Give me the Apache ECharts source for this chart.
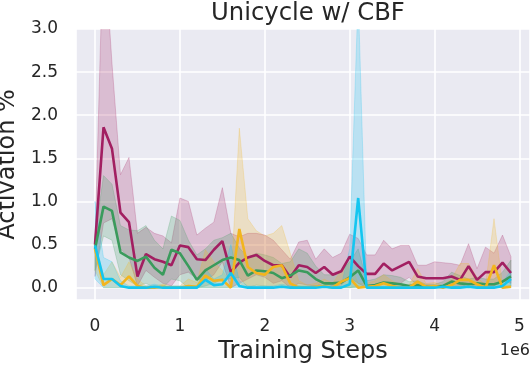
<!DOCTYPE html>
<html>
<head>
<meta charset="utf-8">
<title>Unicycle w/ CBF</title>
<script src="https://cdn.jsdelivr.net/npm/echarts/dist/echarts.min.js"></script>
<style>
  html, body { margin: 0; padding: 0; background: #fff; }
  #chart { width: 532px; height: 365px; }
</style>
</head>
<body>
<div id="chart"></div>
<script>
// training steps, in units of 1e6
const steps = [0, 0.1, 0.2, 0.3, 0.4, 0.5, 0.6, 0.7, 0.8, 0.9,
  1.0, 1.1, 1.2, 1.3, 1.4, 1.5, 1.6, 1.7, 1.8, 1.9,
  2.0, 2.1, 2.2, 2.3, 2.4, 2.5, 2.6, 2.7, 2.8, 2.9,
  3.0, 3.1, 3.2, 3.3, 3.4, 3.5, 3.6, 3.7, 3.8, 3.9,
  4.0, 4.1, 4.2, 4.3, 4.4, 4.5, 4.6, 4.7, 4.8, 4.9];

const purpleMean = [0.50, 1.86, 1.61, 0.87, 0.76, 0.13, 0.39, 0.33, 0.30, 0.26,
  0.49, 0.47, 0.33, 0.32, 0.44, 0.54, 0.18, 0.29, 0.35, 0.38,
  0.31, 0.26, 0.26, 0.12, 0.26, 0.24, 0.17, 0.24, 0.15, 0.19,
  0.36, 0.25, 0.16, 0.16, 0.28, 0.20, 0.25, 0.30, 0.13, 0.11,
  0.11, 0.11, 0.13, 0.09, 0.25, 0.09, 0.18, 0.18, 0.29, 0.17];
const purpleHigh = [0.55, 4.10, 2.60, 1.31, 1.51, 0.63, 0.70, 0.63, 0.60, 0.52,
  1.04, 1.00, 0.61, 0.69, 0.76, 1.16, 0.63, 0.59, 0.63, 0.63,
  0.61, 0.55, 0.44, 0.33, 0.53, 0.55, 0.33, 0.45, 0.35, 0.40,
  0.62, 0.57, 0.38, 0.38, 0.55, 0.45, 0.49, 0.49, 0.26, 0.26,
  0.30, 0.29, 0.28, 0.26, 0.51, 0.22, 0.47, 0.40, 0.61, 0.36];
const purpleLow = [0.13, 0.75, 0.80, 0.45, 0.35, 0.02, 0.20, 0.12, 0.05, 0.02,
  0.15, 0.18, 0.10, 0.08, 0.15, 0.30, 0.00, 0.05, 0.10, 0.15,
  0.12, 0.05, 0.08, 0.00, 0.05, 0.03, 0.02, 0.05, 0.02, 0.03,
  0.12, 0.05, 0.00, 0.00, 0.06, 0.02, 0.05, 0.12, 0.02, 0.00,
  0.00, 0.00, 0.02, 0.00, 0.05, 0.00, 0.02, 0.02, 0.08, 0.05];

const greenMean = [0.45, 0.94, 0.89, 0.41, 0.35, 0.31, 0.36, 0.23, 0.15, 0.44,
  0.40, 0.25, 0.09, 0.20, 0.26, 0.32, 0.35, 0.32, 0.14, 0.20,
  0.19, 0.17, 0.11, 0.14, 0.20, 0.18, 0.10, 0.05, 0.05, 0.06,
  0.12, 0.20, 0.02, 0.03, 0.06, 0.05, 0.04, 0.02, 0.03, 0.01,
  0.01, 0.02, 0.07, 0.05, 0.04, 0.05, 0.04, 0.04, 0.07, 0.13];
const greenHigh = [0.60, 1.30, 1.20, 0.72, 0.67, 0.66, 0.72, 0.55, 0.45, 0.83,
  0.78, 0.55, 0.38, 0.45, 0.55, 0.58, 0.63, 0.46, 0.35, 0.40,
  0.38, 0.35, 0.28, 0.30, 0.45, 0.40, 0.25, 0.15, 0.15, 0.18,
  0.30, 0.45, 0.08, 0.10, 0.15, 0.14, 0.12, 0.07, 0.08, 0.04,
  0.04, 0.07, 0.18, 0.14, 0.10, 0.12, 0.10, 0.10, 0.18, 0.32];
const greenLow = [0.20, 0.60, 0.55, 0.15, 0.08, 0.02, 0.05, 0.00, 0.00, 0.10,
  0.08, 0.00, 0.00, 0.02, 0.05, 0.10, 0.10, 0.12, 0.00, 0.03,
  0.02, 0.00, 0.00, 0.00, 0.02, 0.00, 0.00, 0.00, 0.00, 0.00,
  0.00, 0.02, 0.00, 0.00, 0.00, 0.00, 0.00, 0.00, 0.00, 0.00,
  0.00, 0.00, 0.00, 0.00, 0.00, 0.00, 0.00, 0.00, 0.00, 0.02];

const yellowMean = [0.45, 0.03, 0.10, 0.03, 0.13, 0.02, 0.00, 0.00, 0.01, 0.00,
  0.00, 0.02, 0.01, 0.14, 0.08, 0.09, 0.00, 0.68, 0.24, 0.17,
  0.15, 0.24, 0.26, 0.05, 0.00, 0.00, 0.01, 0.02, 0.00, 0.07,
  0.11, 0.00, 0.01, 0.02, 0.05, 0.02, 0.00, 0.00, 0.07, 0.01,
  0.02, 0.00, 0.03, 0.09, 0.09, 0.04, 0.00, 0.26, 0.00, 0.01];
const yellowHigh = [0.50, 0.15, 0.30, 0.12, 0.30, 0.10, 0.02, 0.02, 0.04, 0.02,
  0.02, 0.10, 0.06, 0.44, 0.30, 0.20, 0.05, 1.85, 0.80, 0.66,
  0.60, 0.63, 0.72, 0.40, 0.08, 0.03, 0.05, 0.10, 0.05, 0.20,
  0.30, 0.05, 0.05, 0.08, 0.15, 0.08, 0.03, 0.03, 0.22, 0.05,
  0.06, 0.03, 0.10, 0.28, 0.28, 0.12, 0.03, 0.80, 0.03, 0.03];
const yellowLow = [0.20, 0.00, 0.00, 0.00, 0.00, 0.00, 0.00, 0.00, 0.00, 0.00,
  0.00, 0.00, 0.00, 0.00, 0.00, 0.00, 0.00, 0.05, 0.00, 0.00,
  0.00, 0.00, 0.00, 0.00, 0.00, 0.00, 0.00, 0.00, 0.00, 0.00,
  0.00, 0.00, 0.00, 0.00, 0.00, 0.00, 0.00, 0.00, 0.00, 0.00,
  0.00, 0.00, 0.00, 0.00, 0.00, 0.00, 0.00, 0.00, 0.00, 0.00];

const cyanMean = [0.49, 0.10, 0.10, 0.02, 0.00, 0.00, 0.00, 0.01, 0.00, 0.00,
  0.00, 0.00, 0.00, 0.09, 0.03, 0.04, 0.17, 0.02, 0.00, 0.00,
  0.00, 0.00, 0.01, 0.00, 0.00, 0.00, 0.00, 0.01, 0.00, 0.00,
  0.04, 1.04, 0.00, 0.00, 0.00, 0.00, 0.00, 0.00, 0.00, 0.00,
  0.00, 0.01, 0.00, 0.00, 0.01, 0.00, 0.00, 0.00, 0.02, 0.10];
const cyanHigh = [1.00, 0.35, 0.30, 0.08, 0.02, 0.02, 0.02, 0.04, 0.02, 0.02,
  0.02, 0.02, 0.02, 0.22, 0.10, 0.15, 0.50, 0.08, 0.02, 0.02,
  0.02, 0.02, 0.04, 0.02, 0.02, 0.02, 0.02, 0.04, 0.02, 0.02,
  0.45, 3.40, 0.03, 0.02, 0.02, 0.02, 0.02, 0.02, 0.02, 0.02,
  0.02, 0.04, 0.02, 0.02, 0.04, 0.02, 0.02, 0.02, 0.06, 0.20];
const cyanLow = [0.10, 0.00, 0.00, 0.00, 0.00, 0.00, 0.00, 0.00, 0.00, 0.00,
  0.00, 0.00, 0.00, 0.00, 0.00, 0.00, 0.00, 0.00, 0.00, 0.00,
  0.00, 0.00, 0.00, 0.00, 0.00, 0.00, 0.00, 0.00, 0.00, 0.00,
  0.00, 0.00, 0.00, 0.00, 0.00, 0.00, 0.00, 0.00, 0.00, 0.00,
  0.00, 0.00, 0.00, 0.00, 0.00, 0.00, 0.00, 0.00, 0.00, 0.00];

const runs = [
  { color: '#A21F61', mean: purpleMean, low: purpleLow, high: purpleHigh },
  { color: '#3A9B5C', mean: greenMean, low: greenLow, high: greenHigh },
  { color: '#F2B51E', mean: yellowMean, low: yellowLow, high: yellowHigh },
  { color: '#14C6F0', mean: cyanMean, low: cyanLow, high: cyanHigh }
];

const font = 'DejaVu Sans';
const textColor = '#262626';

// shaded band: one polygon, upper edge forward then lower edge back
function bandSeries(run) {
  return {
    type: 'custom',
    clip: true,
    silent: true,
    z: 1,
    data: [0],
    renderItem: (params, api) => {
      const pts = [];
      steps.forEach((x, i) => pts.push(api.coord([x, run.high[i]])));
      for (let i = steps.length - 1; i >= 0; i--) {
        pts.push(api.coord([steps[i], run.low[i]]));
      }
      return {
        type: 'polygon',
        shape: { points: pts },
        style: {
          fill: run.color,
          opacity: 0.22,
          stroke: run.color,
          lineWidth: 1
        }
      };
    }
  };
}

function meanSeries(run) {
  return {
    type: 'line',
    data: steps.map((x, i) => [x, run.mean[i]]),
    symbol: 'none',
    lineStyle: { color: run.color, width: 2.6 },
    z: 3
  };
}

const series = [];
runs.forEach(r => series.push(bandSeries(r)));
runs.forEach(r => series.push(meanSeries(r)));

const chart = echarts.init(document.getElementById('chart'), null, { renderer: 'canvas' });

chart.setOption({
  animation: false,
  backgroundColor: '#ffffff',
  textStyle: { fontFamily: font },
  title: {
    text: 'Unicycle w/ CBF',
    left: 206,
    top: -3,
    textStyle: { fontFamily: font, fontSize: 24.3, fontWeight: 'normal', color: textColor }
  },
  grid: {
    left: 76, right: 2, top: 29, bottom: 65,
    containLabel: false,
    outerBoundsMode: 'none',
    show: true, backgroundColor: '#EAEAF2', borderWidth: 0
  },
  xAxis: {
    type: 'value',
    min: -0.224,
    max: 5.124,
    name: 'Training Steps',
    nameLocation: 'middle',
    nameGap: 40,
    nameTextStyle: { fontFamily: font, fontSize: 24, color: textColor },
    axisLine: { show: false },
    axisTick: { show: false },
    splitLine: { lineStyle: { color: '#ffffff', width: 1.6 } },
    axisLabel: {
      fontFamily: font, fontSize: 17, color: textColor, margin: 18,
      formatter: v => (Math.abs(v - Math.round(v)) < 1e-6 ? String(Math.round(v)) : '')
    }
  },
  yAxis: {
    type: 'value',
    min: -0.143,
    max: 3.0,
    name: 'Activation %',
    nameLocation: 'middle',
    nameGap: 52,
    nameTextStyle: { fontFamily: font, fontSize: 24, color: textColor },
    axisLine: { show: false },
    axisTick: { show: false },
    splitLine: { lineStyle: { color: '#ffffff', width: 1.6 } },
    axisLabel: {
      fontFamily: font, fontSize: 17, color: textColor, margin: 18,
      formatter: v => (Math.abs(v * 2 - Math.round(v * 2)) < 1e-6 ? v.toFixed(1) : '')
    }
  },
  graphic: [
    {
      type: 'text',
      right: 2,
      top: 343,
      style: { text: '1e6', fontFamily: font, fontSize: 16, fill: textColor }
    }
  ],
  series: series
});

window.addEventListener('resize', () => chart.resize());
</script>
</body>
</html>
